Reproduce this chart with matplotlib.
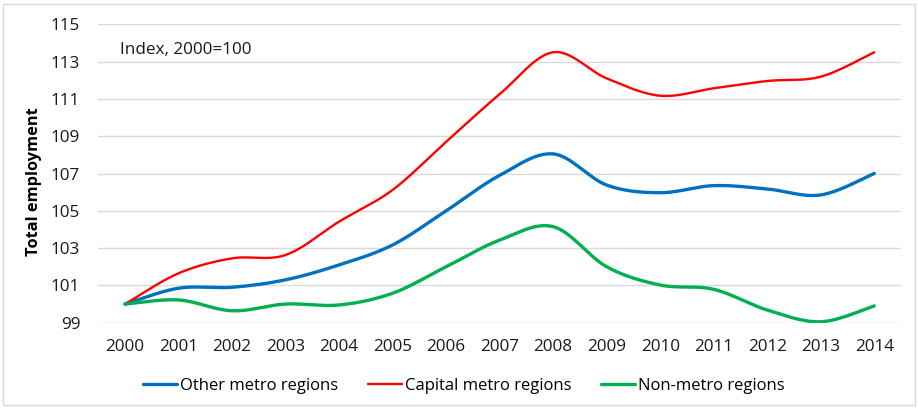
import numpy as np
import matplotlib
matplotlib.use("Agg")
import matplotlib.pyplot as plt
from matplotlib.patches import Rectangle

years = list(range(2000, 2015))
other_metro = [100.0, 100.85, 100.9, 101.3, 102.1, 103.17, 105.0, 106.9, 108.05, 106.38, 105.97, 106.35, 106.17, 105.85, 107.0]
capital_metro = [100.0, 101.65, 102.45, 102.63, 104.42, 106.12, 108.7, 111.25, 113.5, 112.1, 111.17, 111.57, 111.96, 112.19, 113.5]
non_metro = [100.0, 100.22, 99.64, 100.0, 99.95, 100.58, 102.0, 103.43, 104.15, 102.0, 101.02, 100.79, 99.68, 99.05, 99.9]
series_names = ["Other metro regions", "Capital metro regions", "Non-metro regions"]
colors = ["#0070C0", "#FF0000", "#00B050"]
widths = [2.4, 1.7, 2.4]
y_ticks = [99, 101, 103, 105, 107, 109, 111, 113, 115]

plt.rcParams['font.family'] = ['Open Sans', 'DejaVu Sans']


def smooth(x, y, n=30):
    x = np.asarray(x, float)
    y = np.asarray(y, float)
    xs, ys = [], []
    m = len(x)
    for i in range(m - 1):
        p0 = np.array([x[max(i - 1, 0)], y[max(i - 1, 0)]])
        p1 = np.array([x[i], y[i]])
        p2 = np.array([x[i + 1], y[i + 1]])
        p3 = np.array([x[min(i + 2, m - 1)], y[min(i + 2, m - 1)]])
        c1 = p1 + (p2 - p0) / 6.0
        c2 = p2 - (p3 - p1) / 6.0
        t = np.linspace(0, 1, n, endpoint=(i == m - 2))[:, None]
        pts = (1 - t) ** 3 * p1 + 3 * (1 - t) ** 2 * t * c1 + 3 * (1 - t) * t ** 2 * c2 + t ** 3 * p2
        xs.append(pts[:, 0])
        ys.append(pts[:, 1])
    return np.concatenate(xs), np.concatenate(ys)


W, H = 918, 409
fig = plt.figure(figsize=(W / 100, H / 100), dpi=100)
left, right, top, bottom = 98.3, 901, 24.3, 322.7
ax = fig.add_axes([left / W, 1 - bottom / H, (right - left) / W, (bottom - top) / H])

handles = []
for vals, name, c, lw in zip([other_metro, capital_metro, non_metro], series_names, colors, widths):
    sx, sy = smooth(years, vals)
    h, = ax.plot(sx, sy, color=c, lw=lw, label=name, solid_capstyle='round', zorder=3)
    handles.append(h)

ax.set_xlim(1999.5, 2014.5)
ax.set_ylim(99, 115)
ax.set_yticks(y_ticks)
ax.set_xticks(years)
ax.set_xticklabels([str(y) for y in years])
ax.grid(axis='y', color='#D9D9D9', lw=1.0)
ax.set_axisbelow(True)
for s in ax.spines.values():
    s.set_visible(False)
ax.tick_params(length=0, labelsize=12.3, colors='#000000', labelcolor='#1a1a1a')
ax.tick_params(axis='y', pad=13)
ax.tick_params(axis='x', pad=12)

ax.set_ylabel("Total employment", fontsize=11.8, fontweight='bold')
ax.yaxis.set_label_coords(-56 / (right - left), 0.473)

ax.text(1999.9, 113.6, "Index, 2000=100", fontsize=12.3, va='center', ha='left', color='#1a1a1a')

fig.legend(handles=handles, loc='center', bbox_to_anchor=(464 / W, 1 - 386 / H), ncol=3,
           frameon=False, fontsize=12.0, handlelength=2.0, handletextpad=0.2, columnspacing=1.8)

fig.patches.append(Rectangle((3 / W, 4 / H), (W - 6) / W, (H - 8) / H, transform=fig.transFigure,
                             fill=False, edgecolor='#D9D9D9', lw=1.0))

fig.savefig("out.png", dpi=100)
